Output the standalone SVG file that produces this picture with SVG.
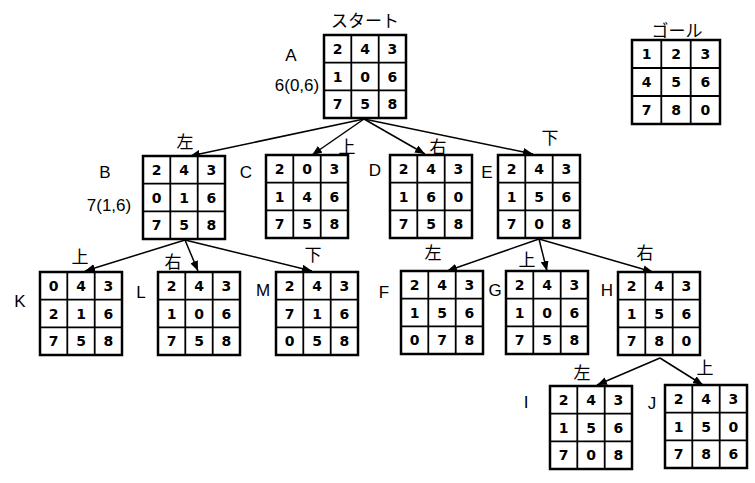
<svg xmlns="http://www.w3.org/2000/svg" width="755" height="483" viewBox="0 0 755 483">
<style>
.cell{fill:#fff;stroke:#000;stroke-width:2.5}
.gl{stroke:#000;stroke-width:1.8}
.d{font-family:"DejaVu Sans","Liberation Sans",sans-serif;font-weight:bold;font-size:14px;text-anchor:middle;fill:#000}
.lb{font-family:"Liberation Sans","DejaVu Sans",sans-serif;font-size:17px;text-anchor:middle;fill:#000}
.jp{font-family:"Noto Sans CJK JP","Noto Sans",sans-serif;font-size:17px;text-anchor:middle;fill:#000}
.edge{stroke:#000;stroke-width:1.5;fill:none;marker-end:url(#ah)}
</style>
<defs>
<marker id="ah" markerUnits="userSpaceOnUse" markerWidth="10" markerHeight="8" refX="10" refY="4" orient="auto">
<path d="M0,0 L10,4 L0,8 z" fill="#000"/>
</marker>
<g id="grid">
<rect class="cell" x="0" y="0" width="82" height="83"/>
<line class="gl" x1="27.3" y1="0" x2="27.3" y2="83"/>
<line class="gl" x1="54.7" y1="0" x2="54.7" y2="83"/>
<line class="gl" x1="0" y1="27.7" x2="82" y2="27.7"/>
<line class="gl" x1="0" y1="55.3" x2="82" y2="55.3"/>
</g>
</defs>
<rect width="755" height="483" fill="#fff"/>

<g id="connectors">
<line class="edge" x1="364" y1="119" x2="190" y2="156"/>
<line class="edge" x1="364" y1="119" x2="312" y2="155"/>
<line class="edge" x1="364" y1="119" x2="425" y2="154"/>
<line class="edge" x1="364" y1="119" x2="533" y2="154"/>
<line class="edge" x1="185" y1="240" x2="85" y2="271"/>
<line class="edge" x1="185" y1="240" x2="198" y2="271"/>
<line class="edge" x1="185" y1="240" x2="312" y2="271"/>
<line class="edge" x1="539" y1="239" x2="447" y2="271"/>
<line class="edge" x1="539" y1="239" x2="547" y2="271"/>
<line class="edge" x1="539" y1="239" x2="653" y2="272"/>
<line class="edge" x1="660" y1="358" x2="597" y2="385"/>
<line class="edge" x1="660" y1="358" x2="703" y2="385"/>
<text class="jp" x="185" y="148">左</text>
<text class="jp" x="347" y="153">上</text>
<text class="jp" x="438" y="153">右</text>
<text class="jp" x="550" y="144">下</text>
<text class="jp" x="80" y="263">上</text>
<text class="jp" x="173" y="268">右</text>
<text class="jp" x="313" y="261">下</text>
<text class="jp" x="433" y="259">左</text>
<text class="jp" x="527" y="266">上</text>
<text class="jp" x="645" y="259">右</text>
<text class="jp" x="582" y="379">左</text>
<text class="jp" x="705" y="374">上</text>
</g>

<g id="goal">
<text class="jp" x="677" y="37" font-size="18">ゴール</text>
<rect class="cell" x="632" y="40" width="88" height="84"/>
<line class="gl" x1="661.3" y1="40" x2="661.3" y2="124"/>
<line class="gl" x1="690.7" y1="40" x2="690.7" y2="124"/>
<line class="gl" x1="632" y1="68" x2="720" y2="68"/>
<line class="gl" x1="632" y1="96" x2="720" y2="96"/>
<text class="d" x="646.7 676 705.3" y="59">123</text>
<text class="d" x="646.7 676 705.3" y="87">456</text>
<text class="d" x="646.7 676 705.3" y="115">780</text>
</g>

<g id="nodeA">
<text class="jp" x="365" y="27" font-size="20">スタート</text>
<text class="lb" x="291" y="61">A</text>
<text class="lb" x="297" y="91">6(0,6)</text>
<g transform="translate(324,35)"><use href="#grid"/>
<text class="d" x="13.7 41 68.3" y="19">243</text>
<text class="d" x="13.7 41 68.3" y="46.5">106</text>
<text class="d" x="13.7 41 68.3" y="74">758</text></g>
</g>

<g id="nodeB">
<text class="lb" x="105" y="178">B</text>
<text class="lb" x="109" y="211">7(1,6)</text>
<g transform="translate(143,156)"><use href="#grid"/>
<text class="d" x="13.7 41 68.3" y="19">243</text>
<text class="d" x="13.7 41 68.3" y="46.5">016</text>
<text class="d" x="13.7 41 68.3" y="74">758</text></g>
</g>

<g id="nodeC">
<text class="lb" x="246" y="178">C</text>
<g transform="translate(266,155)"><use href="#grid"/>
<text class="d" x="13.7 41 68.3" y="19">203</text>
<text class="d" x="13.7 41 68.3" y="46.5">146</text>
<text class="d" x="13.7 41 68.3" y="74">758</text></g>
</g>

<g id="nodeD">
<text class="lb" x="375" y="176">D</text>
<g transform="translate(390,155)"><use href="#grid"/>
<text class="d" x="13.7 41 68.3" y="19">243</text>
<text class="d" x="13.7 41 68.3" y="46.5">160</text>
<text class="d" x="13.7 41 68.3" y="74">758</text></g>
</g>

<g id="nodeE">
<text class="lb" x="487" y="178">E</text>
<g transform="translate(498,155)"><use href="#grid"/>
<text class="d" x="13.7 41 68.3" y="19">243</text>
<text class="d" x="13.7 41 68.3" y="46.5">156</text>
<text class="d" x="13.7 41 68.3" y="74">708</text></g>
</g>

<g id="nodeK">
<text class="lb" x="20" y="307">K</text>
<g transform="translate(40,272)"><use href="#grid"/>
<text class="d" x="13.7 41 68.3" y="19">043</text>
<text class="d" x="13.7 41 68.3" y="46.5">216</text>
<text class="d" x="13.7 41 68.3" y="74">758</text></g>
</g>

<g id="nodeL">
<text class="lb" x="141" y="298">L</text>
<g transform="translate(158,272)"><use href="#grid"/>
<text class="d" x="13.7 41 68.3" y="19">243</text>
<text class="d" x="13.7 41 68.3" y="46.5">106</text>
<text class="d" x="13.7 41 68.3" y="74">758</text></g>
</g>

<g id="nodeM">
<text class="lb" x="263" y="296">M</text>
<g transform="translate(276,272)"><use href="#grid"/>
<text class="d" x="13.7 41 68.3" y="19">243</text>
<text class="d" x="13.7 41 68.3" y="46.5">716</text>
<text class="d" x="13.7 41 68.3" y="74">058</text></g>
</g>

<g id="nodeF">
<text class="lb" x="384" y="298">F</text>
<g transform="translate(401,271)"><use href="#grid"/>
<text class="d" x="13.7 41 68.3" y="19">243</text>
<text class="d" x="13.7 41 68.3" y="46.5">156</text>
<text class="d" x="13.7 41 68.3" y="74">078</text></g>
</g>

<g id="nodeG">
<text class="lb" x="495" y="296">G</text>
<g transform="translate(506,271)"><use href="#grid"/>
<text class="d" x="13.7 41 68.3" y="19">243</text>
<text class="d" x="13.7 41 68.3" y="46.5">106</text>
<text class="d" x="13.7 41 68.3" y="74">758</text></g>
</g>

<g id="nodeH">
<text class="lb" x="607" y="296">H</text>
<g transform="translate(618,272)"><use href="#grid"/>
<text class="d" x="13.7 41 68.3" y="19">243</text>
<text class="d" x="13.7 41 68.3" y="46.5">156</text>
<text class="d" x="13.7 41 68.3" y="74">780</text></g>
</g>

<g id="nodeI">
<text class="lb" x="526" y="408">I</text>
<g transform="translate(550,386)"><use href="#grid"/>
<text class="d" x="13.7 41 68.3" y="19">243</text>
<text class="d" x="13.7 41 68.3" y="46.5">156</text>
<text class="d" x="13.7 41 68.3" y="74">708</text></g>
</g>

<g id="nodeJ">
<text class="lb" x="652" y="409">J</text>
<g transform="translate(665,385)"><use href="#grid"/>
<text class="d" x="13.7 41 68.3" y="19">243</text>
<text class="d" x="13.7 41 68.3" y="46.5">150</text>
<text class="d" x="13.7 41 68.3" y="74">786</text></g>
</g>
</svg>
